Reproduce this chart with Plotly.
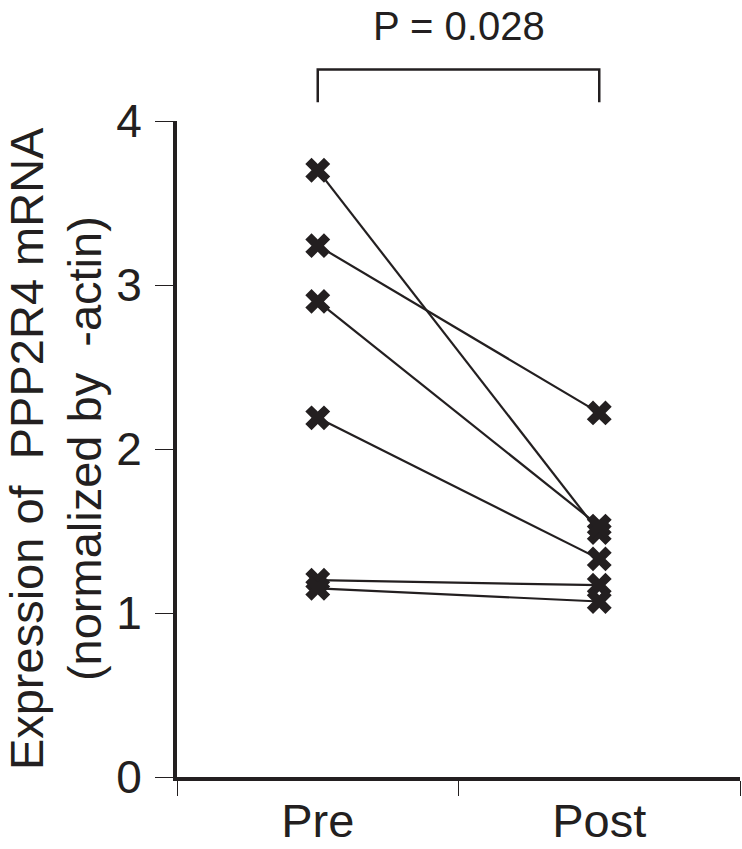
import plotly.graph_objects as go

groups = ["Pre", "Post"]
pre = [3.70, 3.24, 2.90, 2.19, 1.20, 1.15]
post = [1.49, 2.22, 1.53, 1.33, 1.17, 1.07]
y_ticks = [0, 1, 2, 3, 4]
p_label = "P = 0.028"
title_lines = ["Expression of  PPP2R4 mRNA", "(normalized by  -actin)"]

ink = "#231f20"
font = "Liberation Sans, Arial, sans-serif"

fig = go.Figure()
for a, b in zip(pre, post):
    fig.add_trace(go.Scatter(
        x=groups, y=[a, b], mode="lines+markers",
        line=dict(color=ink, width=2.2),
        marker=dict(symbol="x", size=22, color=ink, line=dict(width=0)),
        cliponaxis=False, showlegend=False,
    ))

# significance bracket (x in domain units: category i sits at (i + 0.5) / 2)
ymax = y_ticks[-1]
top = 4.314 / ymax
leg = 4.115 / ymax
x0, x1 = 0.25, 0.75
fig.add_shape(type="path", xref="x domain", yref="y domain",
              path=f"M {x0},{leg} L {x0},{top} L {x1},{top} L {x1},{leg}",
              line=dict(color=ink, width=2.5))
fig.add_annotation(x=0.5, y=1.182, xref="x domain", yref="y domain",
                   xanchor="center", yanchor="top",
                   text=p_label, showarrow=False,
                   font=dict(size=40, color=ink, family=font))

# y title as two rotated lines, spaced a bit tighter than plotly's <br>
for xpos, line in zip([-0.268, -0.165], title_lines):
    fig.add_annotation(x=xpos, y=0.5, xref="x domain", yref="y domain",
                       xanchor="center", yanchor="middle", textangle=-90,
                       text=line, showarrow=False,
                       font=dict(size=47, color=ink, family=font))

fig.update_xaxes(
    type="category", range=[-0.5, 1.5],
    showline=True, linecolor=ink, linewidth=4,
    ticks="outside", tickson="boundaries", ticklen=15, tickwidth=1, tickcolor=ink,
    tickfont=dict(size=47, color=ink, family=font),
    ticklabelstandoff=0,
    showgrid=False, zeroline=False,
)
fig.update_yaxes(
    range=[0, 4], tickvals=y_ticks,
    showline=True, linecolor=ink, linewidth=4,
    ticks="outside", ticklen=18, tickwidth=1, tickcolor=ink,
    tickfont=dict(size=46, color=ink, family=font),
    ticklabelstandoff=4,
    showgrid=False, zeroline=False,
)
fig.update_layout(
    width=742, height=849,
    margin=dict(l=177, r=2, t=121, b=64),
    plot_bgcolor="white", paper_bgcolor="white",
    font=dict(family=font, color=ink),
)

# drop the default body margin so the figure sits at the page origin
fig.write_html("out.html", config={"displayModeBar": False},
               post_script="document.body.style.margin='0';")
